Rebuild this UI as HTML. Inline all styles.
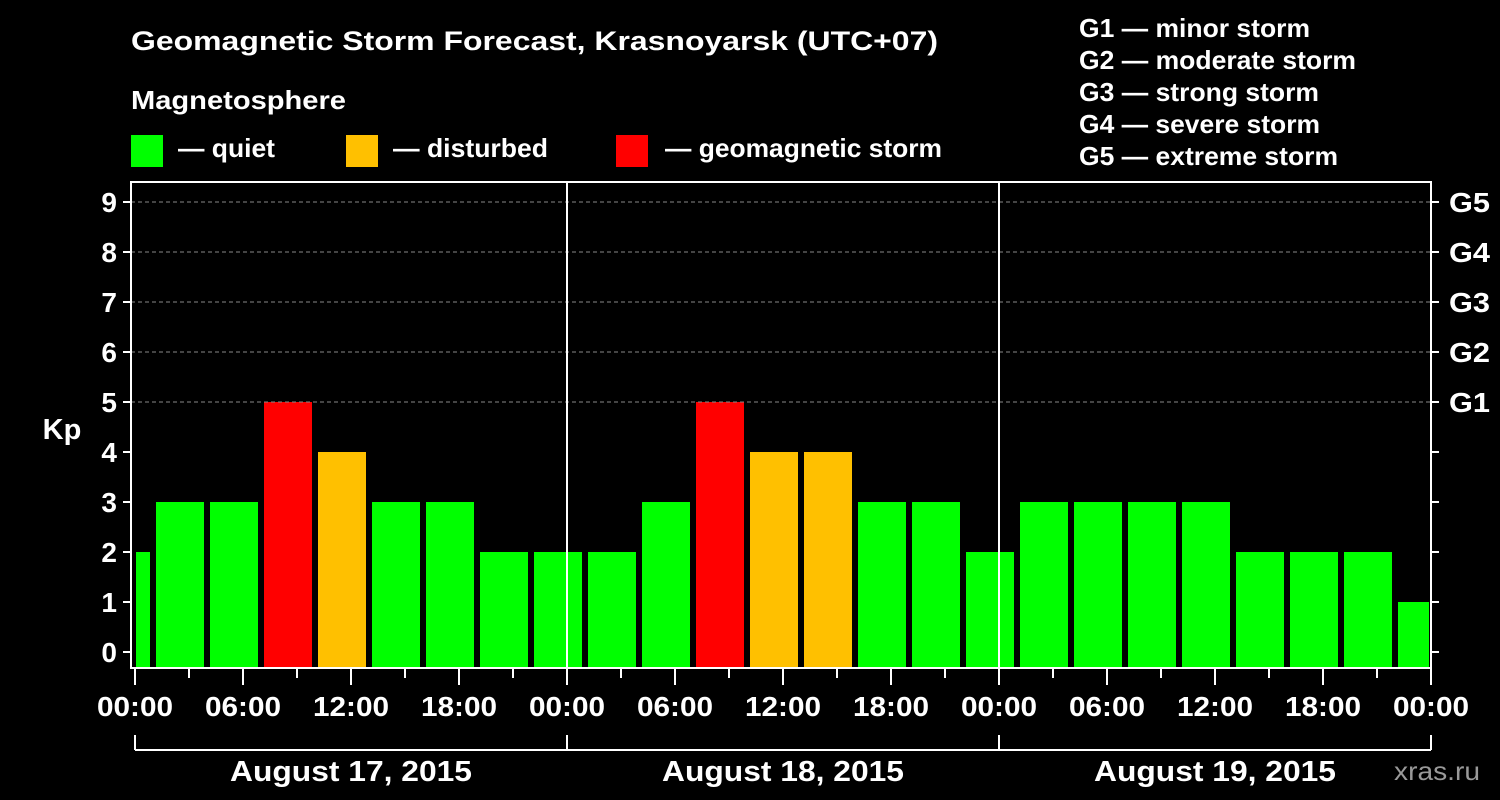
<!DOCTYPE html>
<html><head><meta charset="utf-8"><style>
body{margin:0;background:#000;}
svg{display:block;font-family:"Liberation Sans",sans-serif;font-weight:bold;}
</style></head><body>
<svg id="c" width="1500" height="800" viewBox="0 0 1500 800">
<rect width="1500" height="800" fill="#000"/>
<text x="131" y="50" fill="#fff" font-size="27" textLength="807" lengthAdjust="spacingAndGlyphs">Geomagnetic Storm Forecast, Krasnoyarsk (UTC+07)</text>
<text x="131" y="109" fill="#fff" font-size="26" textLength="215" lengthAdjust="spacingAndGlyphs">Magnetosphere</text>
<g><rect x="131" y="135" width="32" height="32" fill="#00ff00"/><text x="178" y="157" fill="#fff" font-size="26" textLength="97" lengthAdjust="spacingAndGlyphs">— quiet</text></g>
<g><rect x="346" y="135" width="32" height="32" fill="#ffc000"/><text x="393" y="157" fill="#fff" font-size="26" textLength="155" lengthAdjust="spacingAndGlyphs">— disturbed</text></g>
<g><rect x="616" y="135" width="32" height="32" fill="#ff0000"/><text x="665" y="157" fill="#fff" font-size="26" textLength="277" lengthAdjust="spacingAndGlyphs">— geomagnetic storm</text></g>
<g fill="#fff" font-size="26">
<text x="1079" y="37" textLength="231" lengthAdjust="spacingAndGlyphs">G1 — minor storm</text>
<text x="1079" y="69" textLength="277" lengthAdjust="spacingAndGlyphs">G2 — moderate storm</text>
<text x="1079" y="101" textLength="240" lengthAdjust="spacingAndGlyphs">G3 — strong storm</text>
<text x="1079" y="133" textLength="241" lengthAdjust="spacingAndGlyphs">G4 — severe storm</text>
<text x="1079" y="165" textLength="259" lengthAdjust="spacingAndGlyphs">G5 — extreme storm</text>
</g>
<text x="62" y="439" fill="#fff" font-size="29" text-anchor="middle">Kp</text>
<text x="1394" y="780" fill="#999" font-size="26" textLength="86" lengthAdjust="spacingAndGlyphs" font-weight="normal">xras.ru</text>
<g id="bars"></g>
<g id="axes"></g>
</svg>
<script>
const values = [2, 3,3,5,4,3,3,2,2, 2,3,5,4,4,3,3,2, 3,3,3,3,2,2,2,1];
const days = ["August 17, 2015","August 18, 2015","August 19, 2015"];
const yTicks = [0,1,2,3,4,5,6,7,8,9];
const gLabels = ["G1","G2","G3","G4","G5"];
const xLabels = ["00:00","06:00","12:00","18:00"];

const L=131, R=1431, T=182, B=668, X0=135;
const xs = h => X0 + h*18;
const ys = k => 652 - k*50;
const NS="http://www.w3.org/2000/svg";
function mk(tag, attrs, parent){const e=document.createElementNS(NS,tag);for(const k in attrs)e.setAttribute(k,attrs[k]);parent.appendChild(e);return e;}
const bars=document.getElementById('bars'), ax=document.getElementById('axes');
function col(v){return v>=5?"#ff0000":(v>=4?"#ffc000":"#00ff00");}
values.forEach((v,i)=>{
  const startH = -2 + i*3;
  let x1 = xs(startH)+3, x2 = xs(startH+3)-3;
  x1 = Math.max(x1, L+5); x2 = Math.min(x2, R-2);
  const r = mk('rect',{x:x1,y:ys(v),width:x2-x1,height:B-ys(v),fill:col(v)},bars);
  
  
});
[5,6,7,8,9].forEach(k=>{
  const g=mk('line',{x1:L,x2:R,y1:ys(k),y2:ys(k),stroke:"#888","stroke-dasharray":"4,3","stroke-width":1},ax);
  
  
});
const f=mk('rect',{x:L,y:T,width:R-L,height:B-T,fill:"none",stroke:"#fff","stroke-width":2},ax);


[1,2].forEach(d=>{
  const l=mk('line',{x1:xs(d*24),x2:xs(d*24),y1:T,y2:B,stroke:"#fff","stroke-width":2},ax);
  
  
});
yTicks.forEach(k=>{
  mk('line',{x1:L-8,x2:L,y1:ys(k),y2:ys(k),stroke:"#fff","stroke-width":2},ax);
  mk('line',{x1:R,x2:R+8,y1:ys(k),y2:ys(k),stroke:"#fff","stroke-width":2},ax);
  const t=mk('text',{x:L-14,y:ys(k)+10,fill:"#fff","font-size":28,"text-anchor":"end"},ax);
  t.textContent=k;
  
  
});
gLabels.forEach((g,i)=>{
  const t=mk('text',{x:R+18,y:ys(5+i)+10,fill:"#fff","font-size":28,textLength:41,lengthAdjust:"spacingAndGlyphs"},ax);
  t.textContent=g;
  
  
});
for(let h=0;h<=72;h+=3){
  const major=h%6===0;
  mk('line',{x1:xs(h),x2:xs(h),y1:B,y2:B+(major?17:10),stroke:"#fff","stroke-width":2},ax);
  if(major){
    const lab = h===72 ? "00:00" : xLabels[(h%24)/6];
    const t=mk('text',{x:xs(h)-38,y:716,fill:"#fff","font-size":28,textLength:76,lengthAdjust:"spacingAndGlyphs"},ax);
    t.textContent=lab;
    
    
  }
}
mk('line',{x1:xs(0),x2:xs(72),y1:750,y2:750,stroke:"#fff","stroke-width":2},ax);
for(let d=0;d<=3;d++) mk('line',{x1:xs(d*24),x2:xs(d*24),y1:735,y2:750,stroke:"#fff","stroke-width":2},ax);
days.forEach((d,i)=>{
  const t=mk('text',{x:xs(i*24+12)-121,y:781,fill:"#fff","font-size":29,textLength:242,lengthAdjust:"spacingAndGlyphs"},ax);
  t.textContent=d;
  
  
});
</script>
</body></html>
